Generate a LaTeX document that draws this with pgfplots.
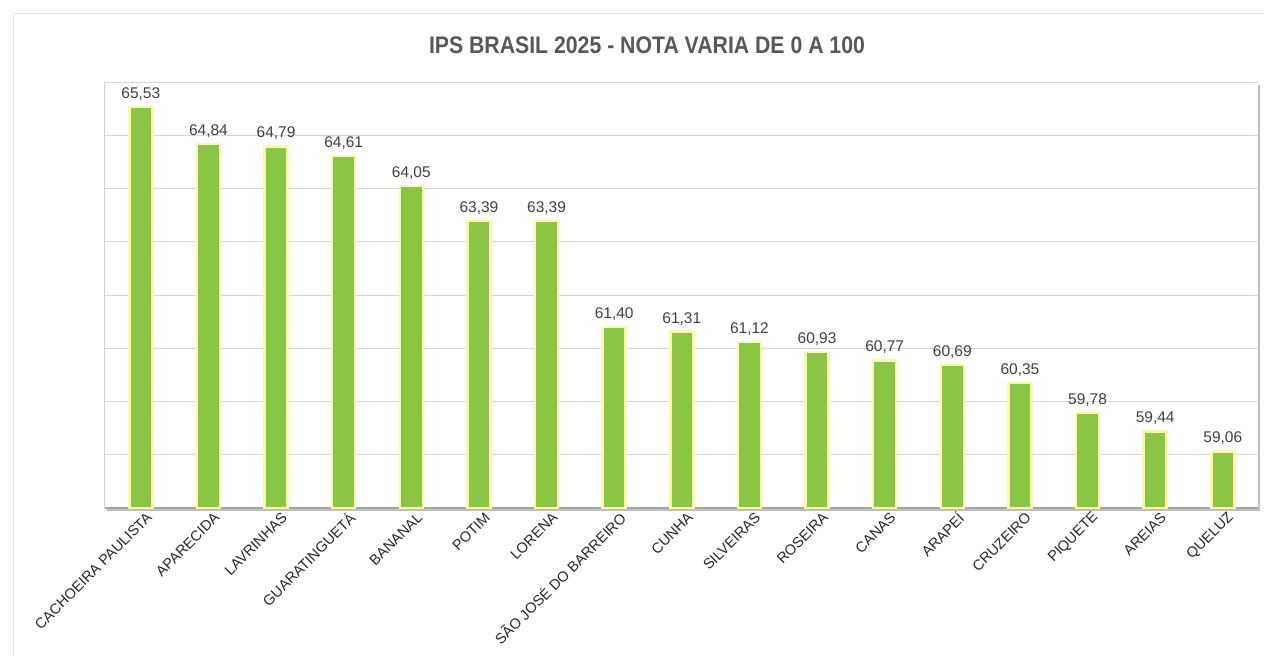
\documentclass[border=0pt]{standalone}
\usepackage{fontspec}
\setmainfont{Liberation Sans}
\usepackage{pgfplots}
\pgfplotsset{compat=1.18}
\usetikzlibrary{shadows}
\definecolor{barg}{RGB}{139,197,68}
\definecolor{bary}{RGB}{255,247,175}
\definecolor{gridc}{RGB}{222,212,212}
\definecolor{titlec}{RGB}{88,88,88}
\definecolor{valc}{RGB}{64,64,64}
\pgfplotstableread{
x y
0 65.53
1 64.84
2 64.79
3 64.61
4 64.05
5 63.39
6 63.39
7 61.40
8 61.31
9 61.12
10 60.93
11 60.77
12 60.69
13 60.35
14 59.78
15 59.44
16 59.06
}\ipsdata
\begin{document}
\begin{tikzpicture}[x=1pt,y=1pt]
\path[use as bounding box] (-105,-148) rectangle (1159,508);
\fill[white] (-105,-148) rectangle (1159,508);
\draw[gray!25, line width=1pt] (-91,494) -- (1159,494);
\draw[gray!25, line width=1pt] (-91,494) -- (-91,-148);
\node[font=\bfseries\fontsize{24}{28}\selectfont, text=titlec] at (542,463) {\scalebox{0.885}[1]{IPS BRASIL 2025 - NOTA VARIA DE 0 A 100}};
\begin{axis}[
  at={(0,0)}, anchor=south west,
  scale only axis, width=1153pt, height=426pt,
  ymin=58, ymax=66, xmin=-0.53, xmax=16.52,
  ytick={58,59,...,66}, yticklabels={},
  ymajorgrids, grid style={gridc, line width=0.8pt},
  major tick length=0pt,
  axis lines*=left,
  x axis line style={draw=gray!70, line width=1.2pt},
  y axis line style={draw=gray!35, line width=1pt},
  axis background/.style={fill=white, drop shadow={shadow xshift=2pt, shadow yshift=-3pt, opacity=0.5}},
  xtick=data,
  xticklabels={CACHOEIRA PAULISTA, APARECIDA, LAVRINHAS, GUARATINGUETÁ, BANANAL, POTIM, LORENA, SÃO JOSÉ DO BARREIRO, CUNHA, SILVEIRAS, ROSEIRA, CANAS, ARAPEÍ, CRUZEIRO, PIQUETE, AREIAS, QUELUZ},
  xticklabel style={rotate=45, anchor=east, font=\fontsize{14.5}{16}\selectfont, inner sep=1pt, xshift=2pt, yshift=-11pt, text=black!85},
  ybar, bar width=23pt,
  nodes near coords,
  point meta=y,
  nodes near coords style={font=\fontsize{15.5}{17}\selectfont, text=valc, yshift=2pt, /pgf/number format/.cd, fixed, fixed zerofill, precision=2, use comma, assume math mode=true},
  clip=false,
]
\addplot[fill=barg, draw=bary, line width=2.5pt, bar shift=0pt] table[x=x, y=y] {\ipsdata};
\end{axis}
\end{tikzpicture}
\end{document}
